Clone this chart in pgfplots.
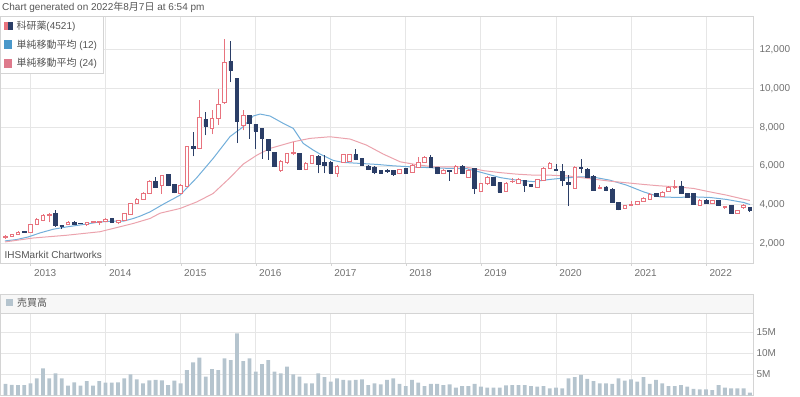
\documentclass[border=0pt]{standalone}
\usepackage{pgfplots}
\pgfplotsset{compat=1.18}
\usepackage{pgfplotstable}
\usepackage{fontspec}
\setmainfont{Liberation Sans}
\newfontfamily\jpfont{Noto Sans CJK JP}
\newcommand{\jp}[1]{{\jpfont #1}}
\definecolor{cup}{HTML}{E8737E}
\definecolor{cdn}{HTML}{2B3E67}
\definecolor{ma12}{HTML}{72AEDA}
\definecolor{ma24}{HTML}{EBA3AD}
\definecolor{ma12l}{HTML}{4A98CA}
\definecolor{ma24l}{HTML}{DE7A8C}
\definecolor{vol}{HTML}{B5C4CE}
\definecolor{gridc}{HTML}{E6E6E6}
\definecolor{axisc}{HTML}{D4D4D4}
\definecolor{txt}{HTML}{707070}
\definecolor{ttl}{HTML}{555555}
\definecolor{hdrfill}{HTML}{F7F7F7}

\pgfplotstableread{
i O H L C
0 2300 2420 2250 2380
1 2380 2520 2350 2470
2 2480 2640 2450 2580
4 2560 3030 2540 3000
5 2980 3330 2950 3250
6 3200 3550 3150 3470
7 3450 3600 3100 3500
10 3000 3180 2980 3080
13 3020 3120 2930 3100
14 3080 3180 3050 3140
15 3080 3160 2950 3130
16 3150 3300 3100 3230
18 3080 3230 2990 3210
19 3210 3600 3200 3560
20 3520 4100 3500 4070
21 4080 4330 4050 4290
22 4280 4650 4260 4620
23 4590 5280 4570 5240
25 5020 5560 4550 5530
28 4590 5100 4550 5010
29 4960 7050 4940 7020
31 6900 9430 6880 8500
33 7940 8880 7640 8450
34 8450 9990 8140 9190
35 9270 12570 9200 11360
38 8100 8910 7850 8620
44 5790 6300 5700 6250
45 6180 6700 6100 6650
46 6680 7240 6550 6720
48 5820 6200 5780 6130
49 6160 6600 6100 6560
53 5650 6050 5440 5990
54 6215 6650 6180 6600
55 6270 6650 6200 6600
63 5620 5850 5580 5820
65 5700 6100 5650 6045
66 5930 6450 5900 6215
67 6215 6500 6180 6440
70 5620 5850 5580 5790
72 5620 6050 5580 5990
74 5440 5850 5400 5790
76 4720 5150 4700 5100
77 5100 5500 5050 5410
80 4720 5200 4700 5100
81 5200 5400 5150 5240
82 5130 5400 5100 5310
85 4930 5350 4900 5310
86 5270 5950 5250 5875
87 5875 6200 5850 6130
91 4875 6000 4850 5960
95 4850 5010 4800 4900
99 3815 4000 3780 3985
100 3990 4200 3950 4050
101 4020 4220 3980 4190
102 4190 4400 4150 4360
103 4290 4600 4250 4535
105 4450 4700 4420 4670
106 4700 4980 4680 4880
107 4880 5310 4840 4950
111 3985 4280 3960 4240
113 4070 4270 4050 4240
115 3880 3950 3810 3910
117 3560 3760 3540 3730
118 3880 4070 3780 3950
}\up

\pgfplotstableread{
i O H L C
3 2640 2660 2580 2600
8 3560 3760 2880 2920
9 2950 2980 2780 2900
11 3080 3180 2970 3000
12 3060 3080 3000 3040
17 3300 3330 3080 3100
24 5220 5440 4900 4930
26 5580 5600 4950 5000
27 5060 5100 4590 4670
30 7000 7760 6500 6900
32 8410 8820 7590 8070
36 11420 12450 10330 10940
37 10540 10560 7190 8330
39 8620 8660 7420 8190
40 8150 8180 6900 7810
41 7940 7980 6390 7420
42 7370 7400 6340 6820
43 6700 6740 5950 5990
47 6650 6700 5800 5820
50 6500 6550 5620 6080
51 6210 6560 5620 6040
52 6210 6250 5600 5650
56 6600 6900 6300 6340
57 6390 6420 6000 6045
58 6010 6050 5800 5840
59 5960 6000 5580 5700
60 5790 5820 5600 5650
61 5760 5850 5650 5720
62 5790 5820 5500 5580
64 5875 5900 5620 5650
68 6470 6600 5920 5960
69 5960 5980 5580 5620
71 5780 5800 5240 5740
73 5990 6050 5580 5620
75 5875 5900 4550 4845
78 5410 5450 4980 5015
79 5150 5200 4620 4670
83 5270 5300 4670 5015
84 5066 5100 4900 4963
88 5850 6130 5780 5800
89 5710 6130 4950 5270
90 5150 5530 3930 5050
92 5930 6350 5620 5880
93 5840 5900 5400 5440
94 5490 5520 4730 4760
96 4930 4960 4700 4760
97 4810 4850 4100 4120
98 4120 4150 3720 3780
104 4590 4620 4420 4450
108 4980 5240 4560 4590
109 4590 4620 4380 4410
110 4590 4620 4000 4020
112 4240 4300 4040 4070
114 4240 4260 3930 3950
116 3950 3980 3540 3560
119 3850 3900 3620 3700
}\down

\pgfplotstableread{
i P
-0.08 2139
1.79 2211
3.65 2346
5.52 2552
7.65 2744
9.79 2863
12.44 2987
15.11 3121
17.24 3157
18.84 3157
20.43 3297
21.5 3416
23.1 3638
25.23 4036
27.9 4501
30.57 5400
33.2 6400
35.9 7526
38.0 8033
39.6 8586
40.7 8689
42.3 8586
44.4 8208
46.0 7950
47.6 7174
49.2 6828
50.3 6621
52.4 6295
54.0 6192
56.7 6140
59.35 6089
62.0 6016
64.7 5965
68.4 5913
71.1 5882
73.7 5872
75.9 5690
79.1 5408
81.7 5277
84.4 5199
87.0 5313
88.65 5365
91.85 5448
94.0 5432
96.6 5277
99.3 5018
102.0 4672
104.6 4414
107.3 4383
110.0 4414
112.6 4383
115.3 4279
118.0 4124
119.0 4021
}\maA

\pgfplotstableread{
i P
-0.08 2087
4.45 2290
9.79 2433
15.1 2614
20.4 3038
23.1 3297
24.7 3570
27.9 3814
30.6 4155
33.2 4589
35.9 5406
38.0 6104
40.2 6569
42.3 6916
46.0 7257
48.7 7433
51.9 7516
55.1 7397
57.7 7087
60.4 6621
63.1 6223
65.7 6078
68.4 5965
71.1 5965
73.7 5949
76.4 5768
79.1 5665
81.7 5587
84.4 5535
87.0 5535
90.2 5484
91.85 5417
96.6 5225
102.0 5055
104.6 4982
107.3 4931
110.0 4848
112.6 4672
115.3 4501
118.0 4295
119.0 4227
}\maB

\pgfplotstableread{
i V
0 2.7
1 2.5
2 2.4
3 2.4
4 2.85
5 4.0
6 6.4
7 4.0
8 5.2
9 4.0
10 2.3
11 3.1
12 2.3
13 3.4
14 2.3
15 3.4
16 3.0
17 3.0
18 3.1
19 4.0
20 5.0
21 3.8
22 2.85
23 3.55
24 3.7
25 3.55
26 2.45
27 3.5
28 2.85
29 6.0
30 7.85
31 8.95
32 4.45
33 6.25
34 6.0
35 8.8
36 8.4
37 14.75
38 8.15
39 8.8
40 5.65
41 7.45
42 8.4
43 5.65
44 5.2
45 6.8
46 5.0
47 4.45
48 2.85
49 2.85
50 5.2
51 4.3
52 3.25
53 4.0
54 3.65
55 3.55
56 3.7
57 3.8
58 2.45
59 2.85
60 2.6
61 3.65
62 4.0
63 2.7
64 2.2
65 3.65
66 3.0
67 2.2
68 2.7
69 2.7
70 2.45
71 2.6
72 1.8
73 2.2
74 2.2
75 2.7
76 2.05
77 1.8
78 1.8
79 1.8
80 2.35
81 2.45
82 2.45
83 2.45
84 2.2
85 2.05
86 2.2
87 1.65
88 1.8
89 1.65
90 4.0
91 4.3
92 4.85
93 3.9
94 3.4
95 2.85
96 2.85
97 2.7
98 4.0
99 3.5
100 3.8
101 3.25
102 4.3
103 2.7
104 3.65
105 2.85
106 2.2
107 2.2
108 2.45
109 2.05
110 1.5
111 1.4
112 1.4
113 1.25
114 2.45
115 1.8
116 1.65
117 1.65
118 1.65
119 0.65
}\volt

\begin{document}
\begin{tikzpicture}
\pgfplotsset{
  pricebase/.style={at={(0pt,133pt)}, anchor=south west, scale only axis,
    width=753pt, height=247pt, xmin=-0.876, xmax=119.5, ymin=1000, ymax=13750,
    scaled y ticks=false},
}
% title
\node[anchor=west, inner sep=0pt, font=\fontsize{10}{12}\selectfont, text=ttl]
  at (2pt,389pt) {Chart generated on 2022\jp{年}8\jp{月}7\jp{日} at 6:54 pm};

% main price axis: grid, labels, moving averages, legend
\begin{axis}[pricebase,
  axis line style={draw=axisc},
  xtick={4,16,28,40,52,64,76,88,100,112},
  xticklabels={2013,2014,2015,2016,2017,2018,2019,2020,2021,2022},
  xtick pos=bottom, tick align=outside, major tick length=3pt,
  xtick style={draw=axisc},
  ytick={2000,4000,6000,8000,10000,12000},
  yticklabels={{2,000},{4,000},{6,000},{8,000},{10,000},{12,000}},
  yticklabel pos=right, ytick style={draw=none},
  xmajorgrids, ymajorgrids, grid style={draw=gridc, line width=0.8pt},
  ticklabel style={font=\fontsize{10}{12}\selectfont, text=txt},
  xticklabel style={anchor=north west},
  yticklabel style={anchor=west},
  legend cell align=left,
  legend style={at={(0,1)}, anchor=north west, draw=axisc, fill=white,
    font=\fontsize{10}{12}\selectfont, text=ttl, inner xsep=4pt, inner ysep=2.5pt,
    row sep=5pt, /tikz/every odd column/.append style={column sep=2pt}},
]
\addlegendimage{legend image code/.code={
  \fill[cup] (0pt,-3.7pt) rectangle (3.3pt,3.7pt);
  \fill[cdn] (4pt,-3.7pt) rectangle (7.3pt,3.7pt);}}
\addlegendentry{\jp{科研薬}(4521)}
\addplot[ma12, line width=1pt, mark=none,
  legend image code/.code={\fill[ma12l] (0pt,-3.6pt) rectangle (7.3pt,3.6pt);}]
  table[x=i, y=P] {\maA};
\addlegendentry{\jp{単純移動平均} (12)}
\addplot[ma24, line width=1pt, mark=none,
  legend image code/.code={\fill[ma24l] (0pt,-3.6pt) rectangle (7.3pt,3.6pt);}]
  table[x=i, y=P] {\maB};
\addlegendentry{\jp{単純移動平均} (24)}
\end{axis}

% wicks
\begin{axis}[pricebase, hide axis]
\addplot[draw=none, mark=none, error bars/.cd, y dir=plus, y explicit,
  error mark=none, error bar style={draw=cup, line width=0.8pt}]
  table[x=i, y=L, y error plus expr=\thisrow{H}-\thisrow{L}] {\up};
\addplot[draw=none, mark=none, error bars/.cd, y dir=plus, y explicit,
  error mark=none, error bar style={draw=cdn, line width=0.8pt}]
  table[x=i, y=L, y error plus expr=\thisrow{H}-\thisrow{L}] {\down};
\end{axis}

% up bodies (hollow)
\begin{axis}[pricebase, hide axis, ybar stacked, bar width=3.6pt]
\addplot[draw=none, fill=none] table[x=i, y=O] {\up};
\addplot[draw=cup, fill=white, line width=0.7pt] table[x=i, y expr=\thisrow{C}-\thisrow{O}] {\up};
\end{axis}

% down bodies (filled)
\begin{axis}[pricebase, hide axis, ybar stacked, bar width=3.6pt]
\addplot[draw=none, fill=none] table[x=i, y=C] {\down};
\addplot[draw=cdn, fill=cdn, line width=0.7pt] table[x=i, y expr=\thisrow{O}-\thisrow{C}] {\down};
\end{axis}

\node[anchor=west, inner sep=0pt, font=\fontsize{10}{12}\selectfont, text=ttl]
  at (4.5pt,141pt) {IHSMarkit Chartworks};

% volume header
\fill[hdrfill] (0pt,82.7pt) rectangle (753pt,102pt);
\draw[axisc, line width=0.8pt] (0pt,82.7pt) rectangle (753pt,102pt);
\fill[vol] (6pt,89.5pt) rectangle (13pt,96.5pt);
\node[anchor=west, inner sep=0pt, font=\fontsize{10}{12}\selectfont, text=ttl]
  at (17pt,93pt) {\jp{売買高}};

% volume axis
\begin{axis}[at={(0pt,0.7pt)}, anchor=south west, scale only axis,
  width=753pt, height=82pt, xmin=-0.876, xmax=119.5, ymin=0, ymax=19.52,
  axis line style={draw=axisc},
  xtick={4,16,28,40,52,64,76,88,100,112}, xticklabels={}, xtick style={draw=none},
  ytick={5,10,15}, yticklabels={5M,10M,15M}, ytick style={draw=none},
  yticklabel pos=right,
  xmajorgrids, ymajorgrids, grid style={draw=gridc, line width=0.8pt},
  ticklabel style={font=\fontsize{10}{12}\selectfont, text=txt},
  yticklabel style={anchor=west},
]
\addplot[ybar, bar width=3.8pt, fill=vol, draw=none] table[x=i, y=V] {\volt};
\end{axis}

\pgfresetboundingbox
\path[use as bounding box] (0pt,0pt) rectangle (800pt,396pt);
\end{tikzpicture}
\end{document}
